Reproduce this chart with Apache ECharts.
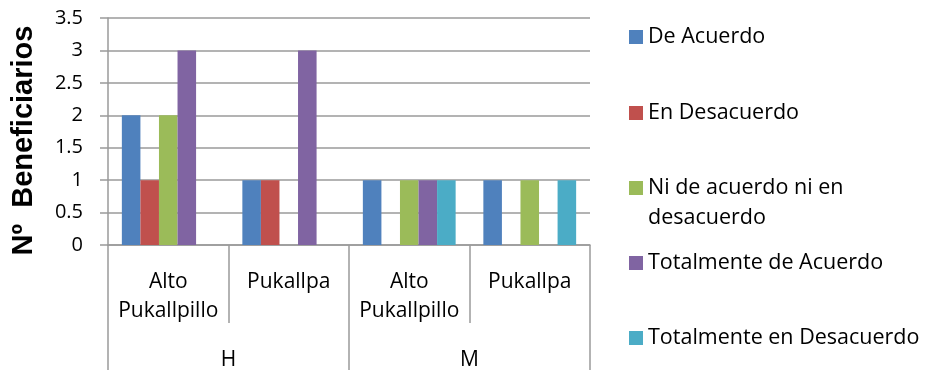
<!DOCTYPE html>
<html>
<head>
<meta charset="utf-8">
<script src="https://cdn.jsdelivr.net/npm/echarts@6/dist/echarts.min.js"></script>
<style>html,body{margin:0;padding:0;background:#fff}#c{width:930px;height:370px}</style>
</head>
<body>
<div id="c"></div>
<script>
const innerCategories = ['Alto\nPukallpillo', 'Pukallpa', 'Alto\nPukallpillo', 'Pukallpa'];
const outerCategories = ['H', 'M'];
const seriesNames = ['De Acuerdo', 'En Desacuerdo', 'Ni de acuerdo ni en desacuerdo', 'Totalmente de Acuerdo', 'Totalmente en Desacuerdo'];
const deAcuerdo = [2, 1, 1, 1];
const enDesacuerdo = [1, 1, '-', '-'];
const niDeAcuerdo = [2, '-', 1, 1];
const totalmenteDeAcuerdo = [3, 3, 1, '-'];
const totalmenteEnDesacuerdo = ['-', '-', 1, 1];
const yTicks = [0, 0.5, 1, 1.5, 2, 2.5, 3, 3.5];

const colors = ['#4F81BD', '#C0504D', '#9BBB59', '#8064A2', '#4BACC6'];
const values = [deAcuerdo, enDesacuerdo, niDeAcuerdo, totalmenteDeAcuerdo, totalmenteEnDesacuerdo];
const font = '"Open Sans", sans-serif';
const gray = '#9a9a9a';

const legendTops = [26, 102, 143, 252, 327];
const legends = seriesNames.map((n, i) => {
  const isLong = i === 2;
  return {
    orient: 'vertical', left: 629, top: legendTops[i], padding: 0,
    itemWidth: 14, itemHeight: 14, itemGap: 0, icon: 'rect',
    data: [n],
    formatter: isLong ? () => '\nNi de acuerdo ni en\ndesacuerdo' : undefined,
    textStyle: isLong
      ? { fontFamily: font, fontSize: 21.5, color: '#000', lineHeight: 30 }
      : { fontFamily: font, fontSize: 21.5, color: '#000', lineHeight: 22 }
  };
});

const chart = echarts.init(document.getElementById('c'), null, { renderer: 'canvas' });
chart.setOption({
  animation: false,
  color: colors,
  legend: legends,
  grid: { left: 108, right: 340, top: 18, bottom: 125, containLabel: false, outerBoundsMode: 'none' },
  xAxis: [
    {
      type: 'category', data: innerCategories, position: 'bottom',
      axisLine: { show: true, lineStyle: { color: gray, width: 1.5 } },
      axisTick: { show: true, length: 78, interval: 0, lineStyle: { color: gray, width: 1.5 } },
      axisLabel: { interval: 0, margin: 23, fontFamily: font, fontSize: 21, color: '#000', lineHeight: 29 }
    },
    {
      type: 'category', data: outerCategories, position: 'bottom',
      axisLine: { show: false },
      axisTick: { show: true, length: 125, interval: 0, lineStyle: { color: gray, width: 1.5 } },
      axisLabel: { interval: 0, margin: 101, fontFamily: font, fontSize: 21, color: '#000', lineHeight: 29 }
    }
  ],
  yAxis: {
    type: 'value', min: 0, max: 3.5, interval: 0.5,
    name: 'Nº  Beneficiarios', nameLocation: 'middle', nameRotate: 90, nameGap: 70,
    nameTextStyle: { fontFamily: '"Liberation Sans", Arial, sans-serif', fontWeight: 'bold', fontSize: 29, color: '#000', padding: [0, 18, 0, 0] },
    axisLine: { show: true, lineStyle: { color: gray, width: 1.5 } },
    axisTick: { show: true, length: 8, lineStyle: { color: gray, width: 1.5 } },
    axisLabel: { margin: 25, fontFamily: font, fontSize: 20, color: '#000',
      formatter: v => yTicks.includes(v) ? String(v) : '' },
    splitLine: { show: true, lineStyle: { color: gray, width: 1.5 } }
  },
  series: seriesNames.map((n, i) => ({
    name: n, type: 'bar', xAxisIndex: 0, data: values[i],
    barGap: '0%', barCategoryGap: '23%',
    itemStyle: { color: colors[i] }
  }))
});
</script>
</body>
</html>
